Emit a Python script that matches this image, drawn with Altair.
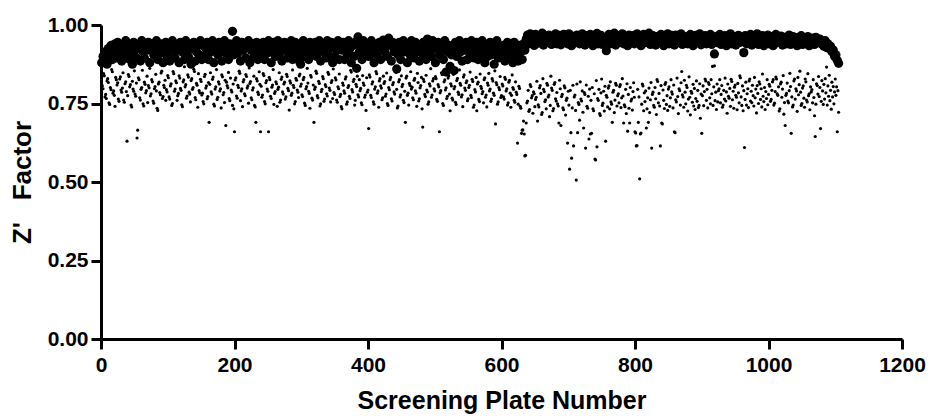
import altair as alt
import pandas as pd

# Z' factor values in thousandths.
# Large dots: one value every 2 plates.
big_001 = [  # plates 1, 3, ..., 635
    880, 900, 885, 915, 875, 925, 905, 935, 890, 920, 940, 895, 945, 915, 925, 885, 935, 905, 950, 920,
    930, 890, 915, 875, 945, 920, 895, 935, 925, 885, 950, 915, 895, 930, 920, 945, 880, 925, 940, 905,
    920, 950, 890, 935, 910, 940, 880, 925, 945, 900, 930, 885, 920, 950, 915, 895, 935, 925, 880, 945,
    915, 935, 890, 950, 920, 900, 940, 875, 925, 945, 885, 915, 935, 905, 950, 890, 935, 900, 925, 945,
    890, 930, 915, 950, 880, 925, 940, 905, 945, 920, 885, 930, 950, 910, 925, 890, 940, 920, 980, 905,
    930, 950, 910, 925, 885, 945, 920, 935, 895, 930, 950, 880, 920, 940, 900, 925, 945, 890, 930, 910,
    925, 945, 890, 935, 910, 950, 920, 880, 930, 945, 900, 925, 950, 905, 935, 885, 920, 945, 930, 895,
    935, 915, 950, 890, 925, 945, 905, 930, 885, 875, 920, 950, 900, 935, 925, 890, 945, 910, 930, 915,
    945, 900, 925, 950, 885, 930, 915, 940, 895, 950, 905, 925, 945, 880, 930, 900, 920, 950, 890, 935,
    920, 945, 890, 930, 905, 950, 925, 880, 935, 900, 945, 862, 962, 915, 930, 890, 950, 905, 925, 940,
    900, 930, 950, 915, 880, 935, 905, 925, 945, 890, 930, 952, 915, 950, 900, 958, 935, 885, 945, 915,
    930, 860, 905, 945, 890, 925, 950, 915, 935, 880, 930, 905, 950, 925, 895, 945, 915, 935, 885, 930,
    910, 945, 925, 890, 955, 915, 935, 900, 950, 925, 880, 930, 945, 905, 925, 940, 890, 950, 850, 915,
    935, 868, 905, 925, 855, 945, 900, 930, 950, 915, 885, 935, 920, 945, 890, 930, 905, 950, 915, 895,
    925, 945, 890, 930, 905, 950, 915, 880, 935, 900, 925, 945, 905, 930, 875, 915, 950, 895, 930, 920,
    905, 935, 885, 925, 945, 895, 915, 930, 880, 945, 905, 925, 885, 935, 915, 890, 940, 920,
]
big_637 = [  # plates 637, 639, ..., 1105
    955, 968, 940, 972, 948, 962, 935, 970, 955, 942, 966, 948, 974, 936, 960, 955, 945, 968, 958, 938,
    962, 946, 972, 940, 958, 967, 937, 955, 970, 946, 960, 940, 972, 952, 934, 964, 957, 944, 968, 950,
    940, 962, 972, 948, 936, 966, 955, 944, 970, 958, 934, 963, 950, 973, 940, 957, 967, 938, 960, 946,
    918, 955, 970, 940, 962, 948, 974, 936, 958, 966, 944, 955, 972, 940, 963, 950, 934, 968, 957, 944,
    966, 940, 958, 972, 946, 963, 934, 955, 970, 944, 960, 950, 974, 938, 958, 966, 946, 936, 963, 955,
    944, 970, 955, 934, 963, 948, 972, 940, 958, 967, 950, 936, 968, 955, 944, 961, 972, 938, 957, 950,
    963, 940, 955, 970, 946, 934, 960, 967, 944, 955, 972, 937, 958, 948, 966, 940, 961, 950, 970, 938,
    955, 908, 963, 944, 958, 970, 938, 955, 946, 966, 934, 961, 950, 972, 940, 957, 963, 936, 955, 967,
    944, 961, 950, 912, 966, 940, 958, 946, 970, 936, 955, 963, 944, 972, 938, 957, 950, 966, 934, 958,
    946, 968, 940, 955, 963, 934, 958, 970, 944, 955, 948, 965, 936, 957, 961, 940, 952, 968, 938, 955,
    963, 944, 955, 934, 961, 948, 966, 938, 950, 958, 940, 963, 934, 955, 946, 958, 938, 961, 944, 950,
    955, 940, 948, 932, 950, 928, 940, 925, 932, 915, 920, 900, 905, 888, 878,
]

# Small dots: one value per plate.
small_001 = [
    812, 806, 797, 845, 838, 771, 779, 766, 822, 829, 817, 752, 747, 801, 794, 858, 851, 783, 790, 776, 741, 833, 826, 809, 816,
    764, 757, 828, 835, 793, 786, 799, 848, 761, 754, 813, 819, 788, 630, 775, 842, 836, 803, 810, 745, 739, 821, 796, 789, 854,
    780, 773, 815, 640, 665, 832, 826, 768, 761, 795, 801, 856, 749, 742, 818, 811, 784, 791, 837, 753, 807, 800, 862, 774, 781,
    826, 819, 758, 751, 797, 804, 843, 790, 735, 728, 812, 818, 785, 778, 847, 853, 766, 772, 808, 801, 824, 760, 794, 787, 839,
]
small_101 = [
    832, 771, 764, 806, 813, 744, 750, 852, 845, 789, 796, 822, 816, 760, 775, 782, 838, 831, 798, 792, 746, 740, 819, 825, 867,
    803, 810, 767, 774, 841, 834, 786, 780, 755, 823, 829, 795, 801, 859, 852, 769, 762, 814, 808, 738, 845, 791, 784, 827, 820,
    777, 783, 756, 749, 836, 843, 799, 806, 765, 772, 817, 690, 811, 848, 787, 780, 827, 834, 748, 742, 796, 803, 858, 763, 770,
    819, 812, 790, 797, 736, 841, 835, 778, 785, 753, 824, 680, 818, 807, 800, 849, 766, 759, 831, 793, 787, 744, 812, 733, 660,
]
small_201 = [
    825, 832, 774, 767, 808, 801, 853, 846, 759, 790, 797, 740, 819, 826, 781, 775, 842, 836, 799, 806, 751, 863, 814, 820, 768,
    762, 793, 800, 837, 744, 739, 690, 829, 822, 786, 779, 851, 811, 660, 805, 770, 777, 845, 839, 756, 749, 816, 823, 796, 789,
    660, 833, 826, 773, 766, 802, 809, 858, 747, 782, 788, 819, 813, 741, 795, 802, 848, 754, 761, 827, 834, 787, 780, 812, 818,
    764, 771, 843, 836, 798, 791, 729, 822, 815, 776, 783, 857, 808, 801, 749, 756, 830, 824, 793, 786, 769, 838, 844, 805, 812,
]
small_301 = [
    778, 772, 826, 833, 751, 744, 797, 804, 862, 815, 789, 782, 735, 840, 834, 767, 761, 809, 690, 795, 802, 853, 846, 775, 768,
    821, 814, 742, 749, 788, 795, 836, 829, 757, 764, 810, 804, 781, 774, 849, 843, 799, 792, 755, 817, 823, 766, 860, 785, 779,
    832, 825, 761, 754, 803, 797, 844, 772, 779, 740, 733, 815, 808, 790, 783, 828, 835, 748, 755, 801, 807, 773, 766, 856, 850,
    794, 787, 820, 827, 745, 760, 811, 804, 837, 778, 771, 826, 791, 798, 752, 746, 839, 815, 808, 770, 777, 728, 832, 786, 793,
]
small_401 = [
    670, 841, 834, 776, 769, 812, 819, 755, 748, 796, 803, 852, 845, 783, 790, 738, 822, 829, 806, 799, 762, 768, 837, 814, 820,
    773, 780, 847, 750, 744, 801, 794, 826, 833, 765, 758, 810, 817, 787, 780, 856, 849, 795, 736, 742, 819, 826, 771, 778, 838,
    804, 811, 760, 753, 789, 690, 831, 837, 776, 783, 745, 814, 807, 851, 796, 802, 768, 762, 824, 830, 790, 783, 741, 846, 817,
    758, 765, 800, 807, 833, 733, 675, 827, 820, 779, 772, 840, 793, 787, 748, 755, 813, 806, 861, 770, 777, 822, 829, 797, 790,
]
small_501 = [
    836, 829, 763, 757, 810, 803, 660, 784, 791, 848, 842, 750, 744, 819, 825, 793, 800, 766, 773, 831, 838, 780, 727, 813, 806,
    767, 761, 843, 797, 804, 754, 747, 823, 830, 786, 779, 857, 814, 808, 771, 778, 740, 834, 841, 799, 792, 816, 822, 759, 765,
    801, 808, 850, 776, 769, 827, 820, 738, 745, 794, 787, 833, 727, 812, 818, 763, 756, 844, 805, 798, 781, 788, 752, 826, 832,
    770, 777, 739, 815, 808, 846, 790, 796, 757, 764, 829, 822, 783, 776, 854, 685, 817, 810, 748, 755, 801, 794, 836, 769, 775,
]
small_601 = [
    812, 806, 771, 764, 833, 827, 790, 797, 745, 752, 818, 824, 783, 738, 776, 841, 801, 795, 760, 754, 819, 786, 779, 624, 748,
    805, 798, 741, 735, 655, 665, 666, 694, 653, 583, 585, 688, 752, 758, 792, 725, 731, 810, 804, 768, 775, 719, 787, 781, 740,
    763, 770, 821, 694, 746, 739, 800, 807, 782, 715, 721, 829, 795, 788, 756, 762, 733, 814, 808, 771, 777, 708, 744, 837, 799,
    792, 727, 734, 811, 817, 765, 758, 785, 749, 742, 688, 824, 797, 680, 772, 779, 736, 730, 806, 800, 713, 760, 767, 624, 789,
]
small_701 = [
    745, 541, 792, 657, 576, 736, 808, 615, 771, 777, 728, 506, 812, 657, 753, 747, 697, 819, 764, 758, 790, 722, 672, 785, 779,
    608, 809, 741, 735, 773, 637, 796, 653, 760, 655, 801, 733, 727, 781, 573, 570, 823, 612, 766, 760, 795, 718, 712, 784, 828,
    744, 751, 789, 726, 805, 630, 776, 770, 739, 799, 806, 733, 819, 755, 748, 690, 786, 792, 721, 761, 814, 808, 742, 775, 781,
    752, 804, 810, 737, 768, 829, 774, 688, 746, 740, 795, 718, 813, 662, 779, 735, 688, 801, 758, 764, 729, 788, 816, 770, 660,
]
small_801 = [
    656, 615, 616, 795, 690, 771, 510, 653, 656, 748, 812, 806, 727, 784, 756, 790, 672, 733, 768, 690, 799, 721, 762, 817, 608,
    779, 786, 744, 738, 801, 765, 715, 826, 820, 752, 782, 742, 615, 807, 688, 685, 793, 760, 734, 811, 817, 747, 775, 728, 796,
    803, 741, 768, 826, 787, 780, 736, 809, 660, 657, 762, 755, 831, 772, 718, 797, 791, 745, 816, 852, 778, 771, 738, 824, 786,
    749, 808, 801, 726, 764, 835, 770, 714, 789, 783, 754, 811, 742, 798, 731, 766, 822, 757, 792, 737, 744, 813, 703, 780, 655,
]
small_901 = [
    775, 806, 743, 788, 828, 822, 760, 795, 736, 817, 811, 768, 749, 826, 781, 868, 744, 803, 870, 759, 786, 731, 812, 755, 791,
    797, 826, 752, 779, 807, 738, 745, 792, 764, 831, 758, 787, 719, 812, 773, 767, 798, 741, 827, 820, 762, 789, 735, 802, 809,
    776, 770, 730, 814, 784, 752, 838, 832, 771, 744, 806, 727, 791, 610, 763, 818, 745, 781, 797, 737, 822, 828, 758, 789, 753,
    808, 775, 742, 833, 768, 796, 720, 807, 782, 750, 819, 812, 763, 797, 739, 844, 773, 756, 801, 731, 788, 766, 826, 746, 779,
]
small_1001 = [
    811, 805, 757, 763, 792, 819, 826, 745, 751, 788, 834, 828, 781, 776, 803, 726, 733, 812, 818, 770, 796, 839, 716, 753, 680,
    776, 782, 815, 758, 752, 791, 846, 804, 655, 771, 739, 745, 822, 828, 764, 797, 790, 725, 833, 778, 810, 853, 786, 744, 750,
    799, 806, 767, 738, 828, 819, 761, 755, 845, 775, 781, 730, 803, 787, 794, 752, 826, 769, 711, 645, 748, 813, 807, 780, 836,
    772, 801, 670, 757, 823, 790, 747, 811, 764, 829, 784, 866, 745, 806, 773, 840, 759, 792, 732, 818, 771, 804, 749, 787, 828,
]
small_1101 = [776, 803, 660, 791, 722]

x_ticks = [0, 200, 400, 600, 800, 1000, 1200]
y_ticks = [0.0, 0.25, 0.5, 0.75, 1.0]

big_rows = []
for start, vals in [(1, big_001), (637, big_637)]:
    for i, v in enumerate(vals):
        big_rows.append({"plate": start + 2 * i, "z": v / 1000})
small_rows = []
for start, vals in [(1, small_001), (101, small_101), (201, small_201), (301, small_301),
                    (401, small_401), (501, small_501), (601, small_601), (701, small_701),
                    (801, small_801), (901, small_901), (1001, small_1001), (1101, small_1101)]:
    for i, v in enumerate(vals):
        small_rows.append({"plate": start + i, "z": v / 1000})

big_df = pd.DataFrame(big_rows)
small_df = pd.DataFrame(small_rows)

x_enc = alt.X("plate:Q",
              scale=alt.Scale(domain=[0, 1200], nice=False, zero=False),
              axis=alt.Axis(values=x_ticks, title="Screening Plate Number", format="d",
                            labelFlush=False, labelPadding=5, titlePadding=13,
                            titleFontSize=25))
y_enc = alt.Y("z:Q",
              scale=alt.Scale(domain=[0, 1], nice=False),
              axis=alt.Axis(values=y_ticks, title="Z'\u00a0\u00a0 Factor", format=".2f",
                            labelFlush=False, labelPadding=3, titlePadding=12,
                            titleFontSize=26))

small_layer = alt.Chart(small_df).mark_circle(color="black", opacity=1, size=10).encode(x=x_enc, y=y_enc)
big_layer = alt.Chart(big_df).mark_circle(color="black", opacity=1, size=85).encode(x=x_enc, y=y_enc)

chart = alt.layer(small_layer, big_layer).properties(
    width=801, height=314,
    autosize=alt.AutoSizeParams(type="none"),
    padding={"left": 93, "top": 17, "right": 24, "bottom": 78},
).configure_view(stroke=None).configure_axis(
    grid=False,
    domainColor="black", domainWidth=3,
    tickColor="black", tickWidth=3, tickSize=10,
    labelFont="Liberation Sans", labelFontWeight="bold", labelFontSize=21, labelColor="black",
    titleFont="Liberation Sans", titleFontWeight="bold", titleColor="black",
)

chart.save("out.html", embed_options={"renderer": "svg", "actions": False})
